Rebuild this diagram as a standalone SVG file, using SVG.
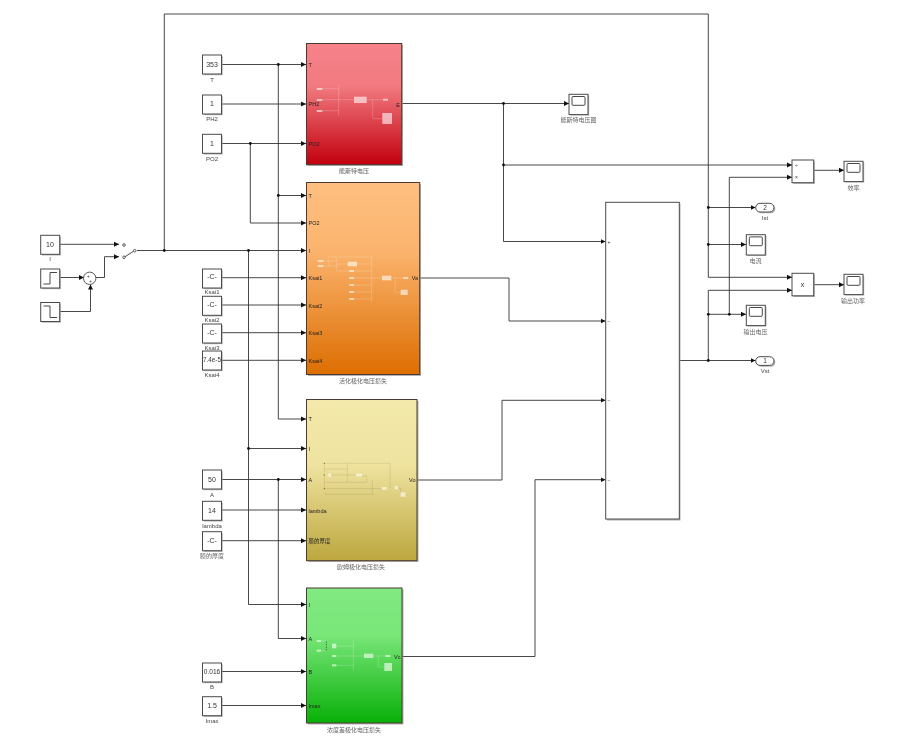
<svg xmlns="http://www.w3.org/2000/svg" width="900" height="747" viewBox="0 0 900 747">
<style>
text{font-family:"Liberation Sans","Noto Sans CJK SC",sans-serif;fill:#333}
.b{fill:#fff;stroke:#4a4a4a;stroke-width:1}
.s{fill:#9a9a9a;opacity:.75}
.c{fill:none;stroke:#333;stroke-width:.9}
.v{font-size:7px;text-anchor:middle}
.l{font-size:6px;text-anchor:middle;fill:#444}
.z{font-size:6px;text-anchor:middle;fill:#666;font-family:"Noto Sans CJK SC","Liberation Sans",sans-serif}
.p{font-size:5.5px;fill:#222}
.r{text-anchor:end}
.i{fill:#fff;fill-opacity:.6;stroke:none}
.w{fill:none;stroke:#fff;stroke-opacity:.28;stroke-width:.7}
.m{fill:none;stroke:#000;stroke-opacity:.14;stroke-width:.6}
.sub{stroke:#4a3a30;stroke-width:1}
.o{fill:#fff;stroke:#333;stroke-width:.8}
</style>
<defs>
<filter id="soft" filterUnits="userSpaceOnUse" x="0" y="0" width="900" height="747" color-interpolation-filters="sRGB"><feGaussianBlur stdDeviation="0.3"/></filter>
<marker id="a" markerUnits="userSpaceOnUse" markerWidth="6" markerHeight="6" refX="5" refY="3" orient="auto"><path d="M0,.5 L5,3 L0,5.5 Z" fill="#111"/></marker>
<linearGradient id="gr" x1="0" y1="0" x2="0" y2="1"><stop offset="0" stop-color="#f6828a"/><stop offset=".35" stop-color="#f27a80"/><stop offset="1" stop-color="#c2000e"/></linearGradient>
<linearGradient id="go" x1="0" y1="0" x2="0" y2="1"><stop offset="0" stop-color="#febf80"/><stop offset=".35" stop-color="#fbb46e"/><stop offset="1" stop-color="#dd6e02"/></linearGradient>
<linearGradient id="gy" x1="0" y1="0" x2="0" y2="1"><stop offset="0" stop-color="#f3e9aa"/><stop offset=".4" stop-color="#efe3a0"/><stop offset="1" stop-color="#bca73e"/></linearGradient>
<linearGradient id="gg" x1="0" y1="0" x2="0" y2="1"><stop offset="0" stop-color="#82ea82"/><stop offset=".35" stop-color="#78e678"/><stop offset="1" stop-color="#08b008"/></linearGradient>
<g id="scope"><rect class="s" x="1.2" y="1.2" width="19" height="20"/><rect class="b" width="19" height="20.3"/><rect x="3" y="2.2" width="13" height="8.8" rx="1" fill="#fff" stroke="#333" stroke-width=".9"/></g>
<g id="const"><rect class="s" x="1.2" y="1.2" width="19" height="19"/><rect class="b" width="19" height="19"/></g>
</defs>
<g id="diagram" filter="url(#soft)">
<rect width="900" height="747" fill="#fff"/>

<g id="connectors">
<path class="c" d="M59.5,244.3H119" marker-end="url(#a)"/>
<path class="c" d="M59.5,277.5H84" marker-end="url(#a)"/>
<path class="c" d="M59.5,311.5H90.5V284.5" marker-end="url(#a)"/>
<path class="c" d="M96,277.5H104.5V256.7H119" marker-end="url(#a)"/>
<path class="c" d="M137,250.5H306" marker-end="url(#a)"/>
<path class="c" d="M164.3,250.5V14H708.3V277.3H792" marker-end="url(#a)"/>
<path class="c" d="M221.5,64.5H306" marker-end="url(#a)"/>
<path class="c" d="M221.5,104H306" marker-end="url(#a)"/>
<path class="c" d="M221.5,143.5H306" marker-end="url(#a)"/>
<path class="c" d="M250.3,143.5V223H306" marker-end="url(#a)"/>
<path class="c" d="M278.3,64.5V195.5H306" marker-end="url(#a)"/>
<path class="c" d="M278.3,195.5V419H306" marker-end="url(#a)"/>
<path class="c" d="M248.5,250.5V604.5H306" marker-end="url(#a)"/>
<path class="c" d="M248.5,448.5H306" marker-end="url(#a)"/>
<path class="c" d="M221.5,277.7H306" marker-end="url(#a)"/>
<path class="c" d="M221.5,305H306" marker-end="url(#a)"/>
<path class="c" d="M221.5,332.7H306" marker-end="url(#a)"/>
<path class="c" d="M221.5,360.3H306" marker-end="url(#a)"/>
<path class="c" d="M221.5,479.5H306" marker-end="url(#a)"/>
<path class="c" d="M278.3,479.5V638.5H306" marker-end="url(#a)"/>
<path class="c" d="M221.5,510H306" marker-end="url(#a)"/>
<path class="c" d="M221.5,540.7H306" marker-end="url(#a)"/>
<path class="c" d="M221.5,671.5H306" marker-end="url(#a)"/>
<path class="c" d="M221.5,705.5H306" marker-end="url(#a)"/>
<path class="c" d="M401.7,103.5H569" marker-end="url(#a)"/>
<path class="c" d="M503.5,103.5V241.5H605.5" marker-end="url(#a)"/>
<path class="c" d="M503.5,165H792" marker-end="url(#a)"/>
<path class="c" d="M419.7,278H509V321H605.5" marker-end="url(#a)"/>
<path class="c" d="M417,480H502V400.3H605.5" marker-end="url(#a)"/>
<path class="c" d="M402,656.5H535V479.7H605.5" marker-end="url(#a)"/>
<path class="c" d="M679.5,360.5H755.5" marker-end="url(#a)"/>
<path class="c" d="M708.3,360.5V290.3H792" marker-end="url(#a)"/>
<path class="c" d="M708.3,207.5H755.5" marker-end="url(#a)"/>
<path class="c" d="M708.3,244.5H746" marker-end="url(#a)"/>
<path class="c" d="M708.3,314.3H746" marker-end="url(#a)"/>
<path class="c" d="M729.3,314.3V177.3H792" marker-end="url(#a)"/>
<path class="c" d="M813.7,170.3H844" marker-end="url(#a)"/>
<path class="c" d="M813.7,284.7H844" marker-end="url(#a)"/>
<g fill="#111">
<circle cx="164.3" cy="250.5" r="1.4"/><circle cx="278.3" cy="64.5" r="1.4"/><circle cx="250.3" cy="143.5" r="1.4"/><circle cx="278.3" cy="195.5" r="1.4"/><circle cx="248.5" cy="250.5" r="1.4"/><circle cx="248.5" cy="448.5" r="1.4"/><circle cx="278.3" cy="479.5" r="1.4"/><circle cx="503.5" cy="103.5" r="1.4"/><circle cx="503.5" cy="165" r="1.4"/><circle cx="708.3" cy="207.5" r="1.4"/><circle cx="708.3" cy="244.5" r="1.4"/><circle cx="708.3" cy="314.3" r="1.4"/><circle cx="729.3" cy="314.3" r="1.4"/><circle cx="708.3" cy="360.5" r="1.4"/>
</g>
</g>

<g id="const-I"><use href="#const" x="40.7" y="235.3"/><text class="v" x="50" y="247">10</text><text class="l" x="50" y="261">I</text></g>
<g id="step-1"><use href="#const" x="40.7" y="269"/><path class="c" d="M43.5,284H50V272.5H57"/></g>
<g id="step-2"><use href="#const" x="40.7" y="302.5"/><path class="c" d="M43.5,306H50V317.5H57"/></g>
<g id="sum"><circle cx="89.7" cy="278.3" r="6.2" fill="#fff" stroke="#444" stroke-width=".9"/><text x="88.2" y="278" font-size="4.5" text-anchor="middle">+</text><text x="90.5" y="282.5" font-size="4.5" text-anchor="middle">+</text></g>
<g id="switch"><path class="c" d="M125,256.7L133.5,251.3"/><circle class="o" cx="124" cy="245" r="1.3"/><circle class="o" cx="124" cy="257.3" r="1.3"/><circle class="o" cx="134.7" cy="250.7" r="1.3"/></g>

<g id="const-T"><use href="#const" x="202.5" y="55"/><text class="v" x="212" y="67">353</text><text class="l" x="212" y="82">T</text></g>
<g id="const-PH2"><use href="#const" x="202.5" y="95"/><text class="v" x="212" y="106">1</text><text class="l" x="212" y="121">PH2</text></g>
<g id="const-PO2"><use href="#const" x="202.5" y="134.3"/><text class="v" x="212" y="146">1</text><text class="l" x="212" y="161">PO2</text></g>
<g id="const-Ksai1"><use href="#const" x="202.5" y="269"/><text class="v" x="212" y="279">-C-</text><text class="l" x="212" y="294">Ksai1</text></g>
<g id="const-Ksai2"><use href="#const" x="202.5" y="296.3"/><text class="v" x="212" y="307">-C-</text><text class="l" x="212" y="322">Ksai2</text></g>
<g id="const-Ksai3"><use href="#const" x="202.5" y="324"/><text class="v" x="212" y="334.5">-C-</text><text class="l" x="212" y="350">Ksai3</text></g>
<g id="const-Ksai4"><use href="#const" x="202.5" y="351"/><text class="v" x="212" y="361.5" style="font-size:6.3px">7.4e-5</text><text class="l" x="212" y="377">Ksai4</text></g>
<g id="const-A"><use href="#const" x="202.5" y="470"/><text class="v" x="212" y="481.5">50</text><text class="l" x="212" y="496.5">A</text></g>
<g id="const-lambda"><use href="#const" x="202.5" y="501.3"/><text class="v" x="212" y="512.5">14</text><text class="l" x="212" y="528">lambda</text></g>
<g id="const-thick"><use href="#const" x="202.5" y="531.7"/><text class="v" x="212" y="542.5">-C-</text><text class="z" x="212" y="558">膜的厚度</text></g>
<g id="const-B"><use href="#const" x="202.5" y="663"/><text class="v" x="212" y="674" style="font-size:6.6px">0.016</text><text class="l" x="212" y="689">B</text></g>
<g id="const-Imax"><use href="#const" x="202.5" y="696.7"/><text class="v" x="212" y="708">1.5</text><text class="l" x="212" y="723">Imax</text></g>

<g id="sub-nernst">
<rect class="s" x="308" y="45" width="95" height="121"/>
<rect class="sub" x="306.5" y="43.5" width="95.2" height="121.2" fill="url(#gr)"/>
<path class="w" d="M322,88.7H338.7M322,99.7H354M322,110.7H338.7M338.7,85V116M366.7,99.7H383M372.7,99.7V118.7H382.3"/>
<rect class="i" x="316.7" y="88" width="5.6" height="2"/><rect class="i" x="316.7" y="99" width="5.6" height="2"/><rect class="i" x="316.7" y="110" width="5.6" height="2"/><rect class="i" x="354" y="96.7" width="12.7" height="6.3"/><rect class="i" x="383" y="98.7" width="5" height="2"/><rect class="i" x="382.3" y="113" width="9.7" height="11"/>
<text class="p" x="308.5" y="66.5">T</text><text class="p" x="308.5" y="106">PH2</text><text class="p" x="308.5" y="146">PO2</text><text class="p r" x="400" y="106.5">E</text>
<text class="z" x="354" y="173">能斯特电压</text>
</g>

<g id="sub-activation">
<rect class="s" x="308" y="184" width="113" height="192"/>
<rect class="sub" x="306.5" y="182.5" width="113.2" height="192" fill="url(#go)"/>
<path class="w" d="M328.3,257H371.7M328.3,257V266M323,261H336.7M323,266H336.7M336.7,258V271M336.7,264H347.7M336.7,271H349M354,271H371.7M357,264H371.7M354,278H382M354,285H371.7M354,292H371.7M354,299H371.7M371.7,256.3V302.3M391.3,278H403.3M395,278V292.3H400.7"/>
<rect class="i" x="317.7" y="260" width="5.6" height="2"/><rect class="i" x="317.7" y="265" width="5.6" height="2"/><rect class="i" x="347.7" y="261.7" width="9.3" height="4.6"/><rect class="i" x="349.3" y="270" width="4.7" height="2"/><rect class="i" x="349.3" y="277" width="4.7" height="2"/><rect class="i" x="349.3" y="284" width="4.7" height="2"/><rect class="i" x="349.3" y="291" width="4.7" height="2"/><rect class="i" x="349.3" y="298" width="4.7" height="2"/><rect class="i" x="382" y="275.7" width="9.3" height="4.6"/><rect class="i" x="403.3" y="277" width="5" height="2"/><rect class="i" x="400.7" y="289.7" width="7" height="5.3"/>
<text class="p" x="308.5" y="197.5">T</text><text class="p" x="308.5" y="225">PO2</text><text class="p" x="308.5" y="253">I</text><text class="p" x="308.5" y="280">Ksai1</text><text class="p" x="308.5" y="308">Ksai2</text><text class="p" x="308.5" y="335">Ksai3</text><text class="p" x="308.5" y="363">Ksai4</text><text class="p r" x="418" y="280">Va</text>
<text class="z" x="363" y="382.5">活化极化电压损失</text>
</g>

<g id="sub-ohmic">
<rect class="s" x="308" y="401" width="110.5" height="161"/>
<rect class="sub" x="306.5" y="399.5" width="110.5" height="161.2" fill="url(#gy)"/>
<path class="m" d="M324.3,463.3H390M347.3,463.3V482M390,463.3V488M324.3,469H347.3M331,475H356M324.3,482.3H366.7M362,476H366.7V482.3M372.3,480V495M324.3,488.7H381.7M324.3,494.3H372.3M324.3,463.3V488.7M398,488H400.7V492.3"/>
<g fill="#6b5a10"><circle cx="324.3" cy="463.3" r=".6"/><circle cx="324.3" cy="475" r=".6"/><circle cx="324.3" cy="488.7" r=".6"/></g>
<rect class="i" x="328.3" y="473.3" width="2.8" height="3.4"/><rect class="i" x="356" y="473.7" width="6" height="2.4"/><rect class="i" x="381.7" y="487" width="5" height="2.7"/><rect class="i" x="394.7" y="486" width="3.3" height="3.3"/><rect class="i" x="400.7" y="492.3" width="4.6" height="4.4"/>
<text class="p" x="308.5" y="421">T</text><text class="p" x="308.5" y="451">I</text><text class="p" x="308.5" y="482">A</text><text class="p" x="308.5" y="512.5">lambda</text><text class="p" x="308.5" y="543" style="font-family:'Noto Sans CJK SC',sans-serif">膜的厚度</text><text class="p r" x="415.5" y="482">Vo</text>
<text class="z" x="361" y="569">欧姆极化电压损失</text>
</g>

<g id="sub-concentration">
<rect class="s" x="308" y="589.5" width="95.5" height="135"/>
<rect class="sub" x="306.5" y="588" width="95.5" height="135" fill="url(#gg)"/>
<path class="w" d="M321,641H326.3M321,650.7H326.3M336.3,646H353.3M336.3,656H364M336.3,665.3H353.3M353.3,640V670.7M373.3,656H385.3M378.3,656V667H384.3"/>
<path d="M326.3,641.7V650.7" fill="none" stroke="#111" stroke-width=".7" stroke-dasharray="1 1.5"/>
<rect class="i" x="316.7" y="640" width="4.3" height="2"/><rect class="i" x="316.7" y="649.7" width="4.3" height="2"/><rect class="i" x="332" y="643.7" width="4.3" height="4.6"/><rect class="i" x="332" y="655" width="4.3" height="2"/><rect class="i" x="332" y="664.3" width="4.3" height="2"/><rect class="i" x="364" y="653.7" width="9.3" height="4.3"/><rect class="i" x="385.3" y="655" width="5" height="2"/><rect class="i" x="384.3" y="663" width="7.7" height="8"/>
<text class="p" x="308.5" y="607">I</text><text class="p" x="308.5" y="641">A</text><text class="p" x="308.5" y="674">B</text><text class="p" x="308.5" y="708">Imax</text><text class="p r" x="400.5" y="659">Vc</text>
<text class="z" x="354" y="732">浓度差极化电压损失</text>
</g>

<g id="sum-big"><rect class="s" x="607" y="203.5" width="73.5" height="317"/><rect class="b" x="605.7" y="202.3" width="73.6" height="316.7" stroke="#666"/><g fill="#777" font-size="5"><text x="607.5" y="243.5">+</text><text x="607.5" y="323">−</text><text x="607.5" y="402">−</text><text x="607.5" y="481.5">−</text></g></g>

<g id="scope-nernst"><use href="#scope" x="569" y="94.3"/><text class="z" x="578.5" y="121.5">能斯特电压图</text></g>
<g id="divide"><rect class="s" x="793.2" y="161.2" width="21.7" height="22.7"/><rect class="b" x="792" y="160" width="21.7" height="22.7"/><text x="795" y="167" font-size="5">÷</text><text x="795" y="179" font-size="5">×</text></g>
<g id="scope-eff"><use href="#scope" x="844" y="161.3"/><text class="z" x="853.5" y="189.5">效率</text></g>
<g id="out-Ist"><rect class="s" x="757" y="204.5" width="18.3" height="8.7" rx="4.3"/><rect class="b" x="755.7" y="203.3" width="18.3" height="8.7" rx="4.3"/><text x="765" y="210" font-size="6.5" text-anchor="middle">2</text><text class="l" x="765" y="219.5">Ist</text></g>
<g id="scope-current"><use href="#scope" x="746.3" y="234.7"/><text class="z" x="755.5" y="262.5">电流</text></g>
<g id="product"><rect class="s" x="793.2" y="274.5" width="21.7" height="22.5"/><rect class="b" x="792" y="273.3" width="21.7" height="22.5"/><text x="802.5" y="287" font-size="7" text-anchor="middle">x</text></g>
<g id="scope-power"><use href="#scope" x="844" y="274.3"/><text class="z" x="853" y="302.5">输出功率</text></g>
<g id="scope-voltage"><use href="#scope" x="746.3" y="305.3"/><text class="z" x="755.5" y="333.5">输出电压</text></g>
<g id="out-Vst"><rect class="s" x="757" y="358" width="18.3" height="8.7" rx="4.3"/><rect class="b" x="755.7" y="356.7" width="18.3" height="8.7" rx="4.3"/><text x="765" y="363.4" font-size="6.5" text-anchor="middle">1</text><text class="l" x="765" y="373">Vst</text></g>
</g>
</svg>
